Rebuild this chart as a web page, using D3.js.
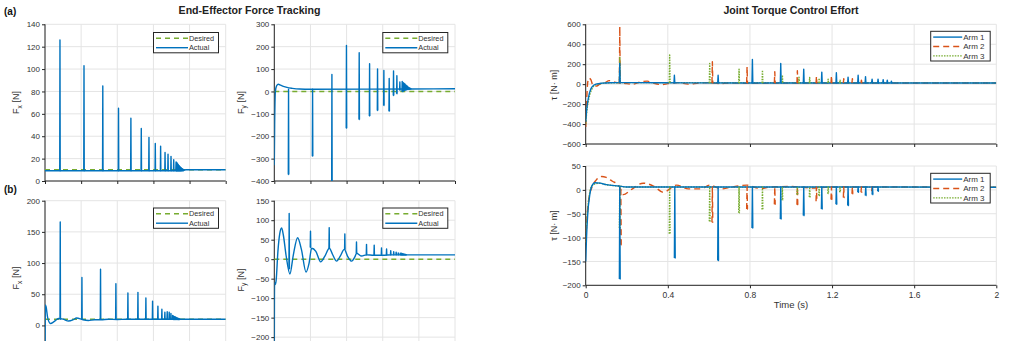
<!DOCTYPE html>
<html>
<head>
<meta charset="utf-8">
<script src="https://cdn.jsdelivr.net/npm/d3@7"></script>
<style>
  body { margin: 0; background: #fff; }
  svg { display: block; font-family: "Liberation Sans", Arial, sans-serif; }
</style>
</head>
<body>
<div id="chart"></div>
<script>
// ---------- shared ----------
var timeTicks = [0, 0.4, 0.8, 1.2, 1.6, 2];
var colBlue = "#0072BD", colOrange = "#D95319", colGreen = "#77AC30";

// ---------- (a) Fx ----------
var aFxDesired = 10;
var aFxBaseT = [0, 1.5, 1.56, 2];
var aFxBaseV = [9.2, 9.2, 10, 10];
var aFxSpikeT = [0.167, 0.433, 0.641, 0.815, 0.952, 1.067, 1.152, 1.222, 1.281, 1.330, 1.363, 1.396, 1.426, 1.452];
var aFxSpikeV = [126, 103, 85, 65, 56, 47, 39, 33.5, 31, 25.5, 24, 22, 19, 17];
var aFxTailT = [1.458, 1.464, 1.470, 1.476, 1.482, 1.488, 1.494, 1.500, 1.506, 1.512, 1.518, 1.524, 1.530, 1.536];
var aFxTailV = [16.5, 16, 15.2, 14.6, 14, 13.4, 12.8, 12.3, 11.8, 11.4, 11, 10.7, 10.4, 10.2];

// ---------- (a) Fy ----------
var aFyDesired = 0;
var aFyBaseT = [0, 0.004, 0.012, 0.025, 0.045, 0.07, 0.1, 0.14, 0.2, 0.28, 0.4, 1.5, 2];
var aFyBaseV = [-330, -150, 0, 25, 32, 28, 23, 18, 14, 11, 10, 11, 12];
var aFySpikeT = [0.159, 0.425, 0.639, 0.80, 0.941, 1.056, 1.144, 1.214, 1.273, 1.321, 1.358, 1.391, 1.417];
var aFySpikeHi = [10, 10, 76, 206, 173, 124, 101, 94, 58, 92, 70, 42, 45];
var aFySpikeLo = [-371, -289, -420, -164, -125, -110, -85, -63, -88, -18, -10, 5, 0];
var aFyTailT = [1.425, 1.433, 1.441, 1.449, 1.457, 1.465, 1.473, 1.481, 1.489, 1.497, 1.505, 1.513];
var aFyTailHi = [40, 38, 35, 32, 29, 26, 23, 20, 18, 16, 14, 13];
var aFyTailLo = [0, 2, 4, 5, 6, 7, 8, 9, 10, 10, 11, 11];

// ---------- (b) Fx ----------
var bFxDesired = 10;
var bFxBaseT = [0, 0.004, 0.012, 0.03, 0.06, 0.1, 0.15, 0.2, 0.26, 0.31, 0.35, 0.42, 0.48, 0.55, 0.62, 0.7, 0.8, 0.9, 1.0, 1.2, 1.5, 2];
var bFxBaseV = [-60, 33, 30, 12, 3, 6, 11, 10, 7, 9, 12, 9, 8, 9, 9, 10, 9.5, 10, 10, 10, 10, 10];
var bFxSpikeT = [0.17, 0.41, 0.616, 0.786, 0.919, 1.03, 1.118, 1.192, 1.251, 1.295, 1.328, 1.354, 1.376, 1.395, 1.413];
var bFxSpikeV = [166, 77, 90, 67, 52, 53, 44, 39, 31, 26, 21, 22, 21, 19, 16];
var bFxTailT = [1.421, 1.428, 1.435, 1.442, 1.449, 1.456, 1.463, 1.470, 1.477, 1.484, 1.491];
var bFxTailV = [15, 14.5, 14, 13.5, 13, 12.5, 12, 11.5, 11, 10.7, 10.4];

// ---------- (b) Fy ----------
var bFyDesired = 0;
var bFyBaseT = [0, 0.003, 0.01, 0.02, 0.04, 0.06, 0.081, 0.1, 0.13, 0.173, 0.21, 0.258, 0.3, 0.351, 0.385, 0.413, 0.46, 0.513, 0.56, 0.609, 0.645, 0.69, 0.73, 0.775, 0.81, 0.856, 0.89, 0.911, 0.967, 1.02, 1.1, 1.2, 1.3, 1.5, 2];
var bFyBaseV = [-270, -60, -65, -55, 20, 65, 80, 62, 10, -38, 10, 55, 25, -33, -10, 28, 20, -7, 8, 28, 12, -5, 8, 25, 8, -5, 5, 15, 8, 11, 10, 10, 11, 11, 11];
var bFySpikeT = [0.166, 0.402, 0.609, 0.782, 0.911, 1.022, 1.107, 1.188, 1.244, 1.29, 1.323, 1.35, 1.373, 1.395];
var bFySpikeV = [117, 72, 81, 65, 44, 38, 36, 29, 26, 22, 19, 18, 16, 15];
var bFySpikeFrom = [-25, 30, 28, 25, 15, 11, 10, 11, 11, 11, 11, 11, 11, 11];
var bFyTailT = [1.405, 1.413, 1.421, 1.429, 1.437, 1.445, 1.453, 1.461];
var bFyTailV = [15, 14.5, 14, 13.5, 13, 12.5, 12, 11.5];

// ---------- joint torque, top ----------
var tTopRest = 12;
var tTop1BaseT = [0, 0.005, 0.015, 0.03, 0.05, 0.08, 0.12, 0.2, 0.5, 1.0, 1.55, 2];
var tTop1BaseV = [-380, -250, -120, -30, 0, 10, 14, 15, 13, 12, 12, 12];
var tTop2BaseT = [0, 0.004, 0.01, 0.016, 0.025, 0.035, 0.05, 0.07, 0.09, 0.115, 0.14, 0.2, 0.23, 0.27, 0.3, 0.33, 0.37, 0.4, 0.45, 0.5, 0.55, 0.6, 0.65, 0.7, 0.8, 0.9, 1.0, 1.2, 1.5, 2];
var tTop2BaseV = [-430, -200, 20, 60, 45, -10, -20, 0, 10, 35, 20, 5, 0, 25, 30, 10, -5, 5, 15, 0, 10, 15, 5, 12, 8, 10, 12, 12, 12, 12];
var tTop3BaseT = [0, 0.005, 0.015, 0.03, 0.05, 0.08, 0.12, 0.2, 2];
var tTop3BaseV = [-400, -280, -150, -50, -5, 8, 14, 15, 12];
var tTop1SpikeT = [0.167, 0.433, 0.646, 0.813, 0.951, 1.063, 1.151, 1.222, 1.279, 1.328, 1.364, 1.396, 1.425, 1.45, 1.47, 1.49];
var tTop1SpikeV = [208, 90, 90, 248, 208, 151, 121, 114, 70, 90, 75, 50, 50, 45, 40, 30];
var tTop2SpikeT = [0.167, 0.618, 0.787, 0.922, 1.032, 1.125, 1.198, 1.258, 1.30, 1.344, 1.396];
var tTop2SpikeV = [577, 225, 174, 124, 134, 80, 85, 55, 55, 40, 30];
var tTop3SpikeT = [0.167, 0.41, 0.605, 0.748, 0.862, 0.959, 1.04, 1.092, 1.138, 1.182, 1.24, 1.28];
var tTop3SpikeV = [268, 292, 208, 151, 141, 90, 70, 67, 60, 50, 40, 30];

// ---------- joint torque, bottom ----------
var tBotRest = 6;
var tBot1BaseT = [0, 0.004, 0.01, 0.02, 0.03, 0.045, 0.07, 0.1, 0.16, 0.2, 0.4, 1.0, 2];
var tBot1BaseV = [-150, -100, -50, -10, 8, 15, 14, 11, 8, 6, 6, 6, 5.6];
var tBot2BaseT = [0, 0.006, 0.015, 0.03, 0.05, 0.078, 0.1, 0.13, 0.16, 0.183, 0.22, 0.28, 0.33, 0.378, 0.443, 0.5, 0.56, 0.605, 0.66, 0.7, 0.784, 0.85, 0.9, 1.0, 1.1, 1.2, 1.4, 2];
var tBot2BaseV = [-110, -60, -20, 5, 20, 28, 26, 18, 10, -10, 0, 14, 8, -5, 10, 2, 2, 10, 2, 5, 10, 3, 6, 7, 4, 6, 6, 5.6];
var tBot3BaseT = [0, 0.005, 0.012, 0.02, 0.03, 0.05, 0.07, 0.1, 0.16, 0.2, 2];
var tBot3BaseV = [-110, -70, -30, -5, 8, 13, 14, 11, 8, 6, 5.6];
var tBot1SpikeT = [0.167, 0.435, 0.646, 0.813, 0.951, 1.063, 1.151, 1.222, 1.279, 1.328, 1.365, 1.398, 1.425];
var tBot1SpikeV = [-187, -143, -148, -80, -61, -54, -40, -30, -33, -5, -12, -10, -3];
var tBot2SpikeT = [0.172, 0.618, 0.787, 0.922, 1.032, 1.125, 1.198, 1.258, 1.30, 1.344, 1.396];
var tBot2SpikeV = [-115, -68, -40, -30, -31, -24, -20, -16, -8, -5, -3];
var tBot3SpikeT = [0.167, 0.41, 0.605, 0.748, 0.862, 0.959, 1.032, 1.092, 1.138, 1.182, 1.24];
var tBot3SpikeV = [-80, -92, -66, -48, -41, -22, -10, -15, -12, -8, -5];

// ---------- layout ----------
var svg = d3.select("#chart").append("svg").attr("width", 1024).attr("height", 341);
svg.append("rect").attr("width", 1024).attr("height", 341).attr("fill", "#fff");
var defs = svg.append("defs");

var textCol = "#333", axisCol = "#262626", gridCol = "#e4e4e4";

// builds grid + axes and returns scales and a clipped group for the lines
function makeAxes(cfg) {
  var x = d3.scaleLinear().domain([0, 2]).range([cfg.left, cfg.right]);
  var y = d3.scaleLinear().domain(cfg.yDomain).range([cfg.bottom, cfg.top]);
  var g = svg.append("g");

  // grid
  g.selectAll(".gx").data(timeTicks).enter().append("line")
    .attr("x1", function (d) { return x(d); }).attr("x2", function (d) { return x(d); })
    .attr("y1", cfg.top).attr("y2", cfg.bottom)
    .attr("stroke", gridCol).attr("stroke-width", 1);
  g.selectAll(".gy").data(cfg.yTicks).enter().append("line")
    .attr("x1", cfg.left).attr("x2", cfg.right)
    .attr("y1", function (d) { return y(d); }).attr("y2", function (d) { return y(d); })
    .attr("stroke", gridCol).attr("stroke-width", 1);

  // y axis
  var ya = g.append("g").attr("transform", "translate(" + cfg.left + ",0)")
    .call(d3.axisLeft(y).tickValues(cfg.yTicks).tickSize(3).tickPadding(2).tickFormat(d3.format("d")));
  ya.select(".domain").remove();
  ya.selectAll("line").attr("stroke", axisCol);
  ya.selectAll("text").attr("fill", textCol).style("font-size", "8px").style("font-family", "Liberation Sans, Arial, sans-serif");

  // x axis (labels only where the reference shows them)
  var xa = g.append("g").attr("transform", "translate(0," + cfg.bottom + ")")
    .call(d3.axisBottom(x).tickValues(timeTicks).tickSize(3).tickPadding(4).tickFormat(function (d) { return d3.format("~g")(d); }));
  xa.select(".domain").remove();
  xa.selectAll("line").attr("stroke", axisCol);
  if (cfg.xLabels) {
    xa.selectAll("text").attr("fill", textCol).style("font-size", "8.5px").style("font-family", "Liberation Sans, Arial, sans-serif");
  } else {
    xa.selectAll("text").remove();
  }

  // axis lines (left + bottom)
  g.append("line").attr("x1", cfg.left).attr("x2", cfg.left).attr("y1", cfg.top).attr("y2", cfg.bottom)
    .attr("stroke", axisCol).attr("stroke-width", 1);
  g.append("line").attr("x1", cfg.left).attr("x2", cfg.right).attr("y1", cfg.bottom).attr("y2", cfg.bottom)
    .attr("stroke", axisCol).attr("stroke-width", 1);

  // clip for data
  defs.append("clipPath").attr("id", "clip-" + cfg.id).append("rect")
    .attr("x", cfg.left).attr("y", cfg.top - 1).attr("width", cfg.right - cfg.left).attr("height", cfg.bottom - cfg.top + 1);
  var plot = svg.append("g").attr("clip-path", "url(#clip-" + cfg.id + ")");

  return { x: x, y: y, plot: plot, cfg: cfg };
}

function styled(sel, st) {
  return sel.attr("fill", "none").attr("stroke", st.color).attr("stroke-width", st.width || 1.4)
    .attr("stroke-dasharray", st.dash || null).attr("stroke-linejoin", "round");
}

function drawLine(ax, ts, vs, st, curve) {
  var line = d3.line().x(function (d) { return ax.x(d[0]); }).y(function (d) { return ax.y(d[1]); })
    .curve(curve || d3.curveLinear);
  styled(ax.plot.append("path").attr("d", line(d3.zip(ts, vs))), st);
}

// spikes: base -> hi -> lo -> base, w is half-width in seconds
function drawSpikes(ax, ts, his, los, st, w) {
  var line = d3.line().x(function (d) { return ax.x(d[0]); }).y(function (d) { return ax.y(d[1]); });
  ts.forEach(function (t, i) {
    var hi = his[i], lo = los[i];
    var pts = [[t - w, hi > lo ? lo : hi], [t - w / 3, hi], [t + w / 3, lo], [t + w, hi > lo ? lo : hi]];
    styled(ax.plot.append("path").attr("d", line(pts)), st);
  });
}

function fill(arr, v) { return arr.map(function () { return v; }); }

function yLabel(x, y, main, sub, unit) {
  var t = svg.append("text").attr("transform", "translate(" + x + "," + y + ") rotate(-90)")
    .attr("text-anchor", "middle").attr("fill", textCol).style("font-size", "9px");
  t.append("tspan").text(main);
  if (sub) t.append("tspan").text(sub).style("font-size", "6.5px").attr("dy", 2.5);
  t.append("tspan").text(unit).attr("dy", sub ? -2.5 : 0);
}

function legend(x, y, w, items) {
  var h = items.length * 9.4 + 1.5;
  var g = svg.append("g");
  g.append("rect").attr("x", x).attr("y", y).attr("width", w).attr("height", h)
    .attr("fill", "#fff").attr("stroke", axisCol).attr("stroke-width", 1);
  items.forEach(function (it, i) {
    var cy = y + 5.8 + i * 9.4;
    styled(g.append("line").attr("x1", x + 2.5).attr("x2", x + it.lineLen).attr("y1", cy).attr("y2", cy), it);
    g.append("text").attr("x", x + it.lineLen + 1).attr("y", cy + 2.6).attr("fill", textCol)
      .style("font-size", it.fs + "px").text(it.name);
  });
}

var stDesired = { color: colGreen, width: 1.5, dash: "5,4" };
var stActual = { color: colBlue, width: 1.4 };
var stArm1 = { color: colBlue, width: 1.4 };
var stArm2 = { color: colOrange, width: 1.4, dash: "6,4" };
var stArm3 = { color: colGreen, width: 1.4, dash: "1.5,1.2" };

// ---------- (a) Fx ----------
var aFx = makeAxes({ id: "aFx", left: 45, right: 225.7, top: 24.3, bottom: 181, yDomain: [0, 140], yTicks: d3.range(0, 141, 20) });
drawLine(aFx, [0, 2], [aFxDesired, aFxDesired], stDesired);
drawLine(aFx, aFxBaseT, aFxBaseV, stActual);
drawSpikes(aFx, aFxSpikeT, aFxSpikeV, fill(aFxSpikeT, 9.2), stActual, 0.004);
drawSpikes(aFx, aFxTailT, aFxTailV, fill(aFxTailT, 9.2), stActual, 0.003);

// ---------- (a) Fy ----------
var aFy = makeAxes({ id: "aFy", left: 274.3, right: 455, top: 24.3, bottom: 181, yDomain: [-400, 300], yTicks: d3.range(-400, 301, 100) });
drawLine(aFy, [0, 2], [aFyDesired, aFyDesired], stDesired);
drawLine(aFy, aFyBaseT, aFyBaseV, stActual, d3.curveMonotoneX);
drawSpikes(aFy, aFySpikeT, aFySpikeHi, aFySpikeLo, stActual, 0.004);
drawSpikes(aFy, aFyTailT, aFyTailHi, aFyTailLo, stActual, 0.003);

// ---------- (b) Fx (lower part runs past the picture edge) ----------
var bFx = makeAxes({ id: "bFx", left: 45, right: 225.7, top: 200.7, bottom: 356.6, yDomain: [-50, 200], yTicks: d3.range(0, 201, 50) });
drawLine(bFx, [0, 2], [bFxDesired, bFxDesired], stDesired);
drawLine(bFx, bFxBaseT, bFxBaseV, stActual, d3.curveMonotoneX);
drawSpikes(bFx, bFxSpikeT, bFxSpikeV, fill(bFxSpikeT, 10), stActual, 0.004);
drawSpikes(bFx, bFxTailT, bFxTailV, fill(bFxTailT, 9.5), stActual, 0.003);

// ---------- (b) Fy ----------
var bFy = makeAxes({ id: "bFy", left: 274.3, right: 455, top: 200.7, bottom: 356.6, yDomain: [-250, 150], yTicks: d3.range(-200, 151, 50) });
drawLine(bFy, [0, 2], [bFyDesired, bFyDesired], stDesired);
drawLine(bFy, bFyBaseT, bFyBaseV, stActual, d3.curveMonotoneX);
drawSpikes(bFy, bFySpikeT, bFySpikeV, bFySpikeFrom, stActual, 0.004);
drawSpikes(bFy, bFyTailT, bFyTailV, fill(bFyTailT, 10.5), stActual, 0.003);

// ---------- torque top ----------
var tT = makeAxes({ id: "tT", left: 585.7, right: 996.3, top: 24.3, bottom: 144, yDomain: [-600, 600], yTicks: d3.range(-600, 601, 200) });
drawLine(tT, tTop2BaseT, tTop2BaseV, stArm2, d3.curveMonotoneX);
drawLine(tT, tTop3BaseT, tTop3BaseV, stArm3, d3.curveMonotoneX);
drawLine(tT, tTop1BaseT, tTop1BaseV, stArm1, d3.curveMonotoneX);
drawSpikes(tT, tTop2SpikeT, tTop2SpikeV, fill(tTop2SpikeT, tTopRest), stArm2, 0.003);
drawSpikes(tT, tTop3SpikeT, tTop3SpikeV, fill(tTop3SpikeT, tTopRest), stArm3, 0.003);
drawSpikes(tT, tTop1SpikeT, tTop1SpikeV, fill(tTop1SpikeT, tTopRest), stArm1, 0.003);

// ---------- torque bottom ----------
var tB = makeAxes({ id: "tB", left: 585.7, right: 996.3, top: 166, bottom: 285.3, yDomain: [-200, 50], yTicks: d3.range(-200, 51, 50), xLabels: true });
drawLine(tB, tBot2BaseT, tBot2BaseV, stArm2, d3.curveMonotoneX);
drawLine(tB, tBot3BaseT, tBot3BaseV, stArm3, d3.curveMonotoneX);
drawLine(tB, tBot1BaseT, tBot1BaseV, stArm1, d3.curveMonotoneX);
drawSpikes(tB, tBot2SpikeT, fill(tBot2SpikeT, tBotRest), tBot2SpikeV, stArm2, 0.003);
drawSpikes(tB, tBot3SpikeT, fill(tBot3SpikeT, tBotRest), tBot3SpikeV, stArm3, 0.003);
drawSpikes(tB, tBot1SpikeT, fill(tBot1SpikeT, tBotRest), tBot1SpikeV, stArm1, 0.003);

// ---------- texts ----------
svg.append("text").attr("x", 249.5).attr("y", 14).attr("text-anchor", "middle").attr("fill", "#222")
  .style("font-size", "10.6px").style("font-weight", "bold").text("End-Effector Force Tracking");
svg.append("text").attr("x", 791).attr("y", 14).attr("text-anchor", "middle").attr("fill", "#222")
  .style("font-size", "10.6px").style("font-weight", "bold").text("Joint Torque Control Effort");
svg.append("text").attr("x", 4).attr("y", 15).attr("fill", "#111")
  .style("font-size", "10px").style("font-weight", "bold").text("(a)");
svg.append("text").attr("x", 4).attr("y", 193).attr("fill", "#111")
  .style("font-size", "10px").style("font-weight", "bold").text("(b)");
svg.append("text").attr("x", 791).attr("y", 308).attr("text-anchor", "middle").attr("fill", textCol)
  .style("font-size", "9.5px").text("Time (s)");

yLabel(19, 102.5, "F", "x", " [N]");
yLabel(243.5, 102.5, "F", "y", " [N]");
yLabel(19, 278, "F", "x", " [N]");
yLabel(243.5, 280, "F", "y", " [N]");
yLabel(557, 85, "τ", null, " [N· m]");
yLabel(557, 225.5, "τ", null, " [N· m]");

// ---------- legends ----------
var legF = [
  { name: "Desired", color: colGreen, width: 1.5, dash: "5,4", lineLen: 34.5, fs: 7.3 },
  { name: "Actual", color: colBlue, width: 1.4, lineLen: 34.5, fs: 7.3 }
];
legend(153.5, 32.5, 65, legF);
legend(382.8, 32.5, 65, legF);
legend(153.5, 208, 65, legF);
legend(382.8, 208, 65, legF);
var legT = [
  { name: "Arm 1", color: colBlue, width: 1.4, lineLen: 31.5, fs: 8 },
  { name: "Arm 2", color: colOrange, width: 1.4, dash: "6,4", lineLen: 31.5, fs: 8 },
  { name: "Arm 3", color: colGreen, width: 1.4, dash: "1.5,1.2", lineLen: 31.5, fs: 8 }
];
legend(930.7, 31.3, 59.5, legT);
legend(930.7, 173.3, 59.5, legT);
</script>
</body>
</html>
